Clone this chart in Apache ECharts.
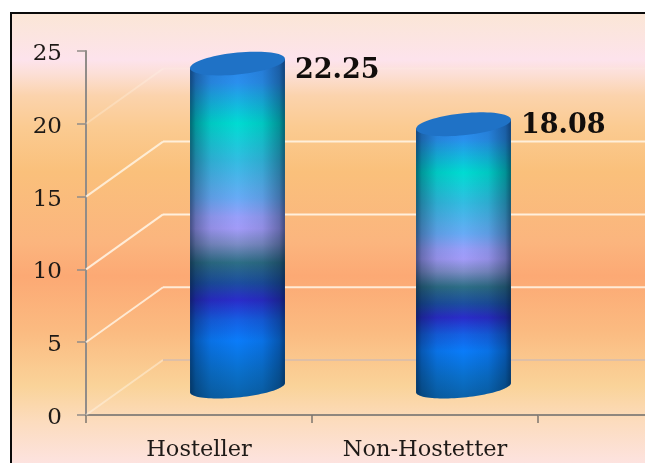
<!DOCTYPE html>
<html>
<head>
<meta charset="utf-8">
<script src="https://cdn.jsdelivr.net/npm/echarts@6/dist/echarts.min.js"></script>
<style>
  html, body { margin: 0; padding: 0; width: 645px; height: 463px; overflow: hidden; background: #fff; }
  #panel {
    position: absolute; left: 10px; top: 12px; width: 640px; height: 460px;
    border-left: 2.5px solid #0a0a0a; border-top: 2.5px solid #0a0a0a;
    background: linear-gradient(180deg,
      #fbe6d6 0px, #fde3ec 46px, #fcdfd6 60px, #fbd3ac 82px, #fbcb92 112px, #fac07b 158px,
      #fbb57e 228px, #fca974 262px, #fbbb81 318px, #fad399 372px,
      #fcdcbe 408px, #fde3e0 450px);
  }
  #chart { position: absolute; left: 0; top: 0; width: 645px; height: 463px; }
</style>
</head>
<body>
<div id="panel"></div>
<div id="chart"></div>
<script>
// Residence groups and their mean scores
const categories = ['Hosteller', 'Non-Hostetter'];
const scores = [22.25, 18.08];
const wallTicks = [0, 5, 10, 15, 20];
const sideOpacity = [0.45, 0.8, 0.85, 0.8, 0.3];
const backColor = ['#dcbfa8', '#fff6e8', '#fff6e8', '#fff6e8', '#fff6e8'];
const backOpacity = [0.95, 0.85, 0.9, 0.85, 0.2];
const labelNudge = [7, 2];

const font = '"DejaVu Serif", serif';
const axisColor = '#8f877e';
const chart = echarts.init(document.getElementById('chart'));

// Receding floor/wall vector of the pseudo-3D plot box
const depth = [77, -55];

const cylinderStops = [
  [0, '#2a84ea'], [0.07, '#2a90ee'], [0.19, '#00dcd2'], [0.3, '#33bce2'],
  [0.41, '#68abf6'], [0.465, '#989ffa'], [0.5, '#a29bf8'], [0.545, '#7c8cc6'], [0.6, '#2d6e86'],
  [0.66, '#1c4ea0'], [0.71, '#2a2cca'], [0.77, '#1560e4'], [0.83, '#0a7cfa'],
  [0.92, '#0a70cc'], [1, '#0a62aa']
].map(s => ({ offset: s[0], color: s[1] }));

const edgeShade = [
  [0, 0.58], [0.06, 0.34], [0.22, 0.1], [0.5, 0], [0.76, 0.1], [0.94, 0.36], [1, 0.6]
].map(s => ({ offset: s[0], color: 'rgba(0,20,45,' + s[1] + ')' }));

function ellipsePoint(c, a, b, shear, t) {
  return [c[0] + a * Math.cos(t), c[1] - shear * Math.cos(t) + b * Math.sin(t)];
}

// Wall gridline: runs back from the value axis, then across to the page edge.
// The zero line also carries the category axis on past the last band.
function renderWall(params, api) {
  const v = api.value(1);
  const i = params.dataIndex;
  const front = api.coord([0, v]);
  const startX = front[0] - api.size([1, 0])[0] / 2;
  const backX = startX + depth[0];
  const backY = front[1] + depth[1];
  const endX = api.getWidth();
  const children = [{
    type: 'line',
    silent: true,
    shape: { x1: startX, y1: front[1], x2: backX, y2: backY },
    style: { stroke: '#fff6e8', lineWidth: 2, opacity: sideOpacity[i] }
  }, {
    type: 'line',
    silent: true,
    shape: { x1: backX, y1: backY, x2: endX, y2: backY },
    style: { stroke: backColor[i], lineWidth: 2, opacity: backOpacity[i] }
  }];
  if (v === 0) {
    children.push({
      type: 'line',
      silent: true,
      shape: { x1: params.coordSys.x + params.coordSys.width, y1: front[1], x2: endX, y2: front[1] },
      style: { stroke: axisColor, lineWidth: 2 }
    });
  }
  return { type: 'group', children: children };
}

function renderCylinder(params, api) {
  const idx = api.value(0);
  const val = api.value(1);
  const band = api.size([1, 0])[0];
  const top = api.coord([idx, val]);
  const base = api.coord([idx, 0]);
  const a = band * 0.21, b = 10, shear = 4.6;
  const cTop = [top[0] + depth[0] / 2, top[1] + depth[1] / 2];
  const cBase = [base[0] + depth[0] / 2, base[1] + depth[1] / 2];

  const body = [];
  body.push(ellipsePoint(cTop, a, b, shear, Math.PI));
  for (let k = 0; k <= 48; k++) {
    body.push(ellipsePoint(cBase, a, b, shear, Math.PI - Math.PI * k / 48));
  }
  body.push(ellipsePoint(cTop, a, b, shear, 0));

  const cap = [];
  for (let k = 0; k < 72; k++) {
    cap.push(ellipsePoint(cTop, a, b + 1, shear, 2 * Math.PI * k / 72));
  }

  return {
    type: 'group',
    children: [
      { type: 'polygon', shape: { points: body },
        style: { fill: new echarts.graphic.LinearGradient(0, 0, 0, 1, cylinderStops) } },
      { type: 'polygon', shape: { points: body },
        style: { fill: new echarts.graphic.LinearGradient(0, 0, 1, 0, edgeShade) } },
      { type: 'polygon', shape: { points: cap },
        style: { fill: '#1f72c6' } },
      { type: 'text',
        style: {
          text: val.toFixed(2), x: cTop[0] + a + 10, y: cTop[1] + labelNudge[idx],
          align: 'left', verticalAlign: 'middle',
          font: 'bold 27px ' + font, fill: '#120e0c'
        } }
    ]
  };
}

chart.setOption({
  animation: false,
  backgroundColor: 'transparent',
  grid: { left: 86, top: 51, height: 364, width: 452 },
  xAxis: {
    type: 'category',
    data: categories,
    axisLine: { show: true, lineStyle: { color: axisColor, width: 2 } },
    axisTick: { show: true, length: 8, lineStyle: { color: '#7c756d', width: 1.5 } },
    axisLabel: { margin: 24, color: '#1e1a17', fontFamily: font, fontSize: 22.5, interval: 0 }
  },
  yAxis: {
    type: 'value',
    min: 0,
    max: 25,
    interval: 5,
    axisLine: { show: true, lineStyle: { color: '#918c88', width: 2 } },
    axisTick: { show: true, length: 9, lineStyle: { color: '#918c88', width: 1.5 } },
    axisLabel: {
      margin: 24,
      formatter: '{t|{value}}',
      rich: { t: { color: '#1e1a17', fontFamily: font, fontSize: 23, padding: [6, 0, 0, 0] } }
    },
    splitLine: { show: false }
  },
  series: [
    {
      type: 'custom',
      coordinateSystem: 'cartesian2d',
      renderItem: renderWall,
      encode: { x: 0, y: 1 },
      clip: false,
      silent: true,
      z: 1,
      data: wallTicks.map(v => [0, v])
    },
    {
      type: 'custom',
      coordinateSystem: 'cartesian2d',
      renderItem: renderCylinder,
      encode: { x: 0, y: 1 },
      clip: false,
      z: 3,
      data: scores.map((v, i) => [i, v])
    }
  ]
});
</script>
</body>
</html>
